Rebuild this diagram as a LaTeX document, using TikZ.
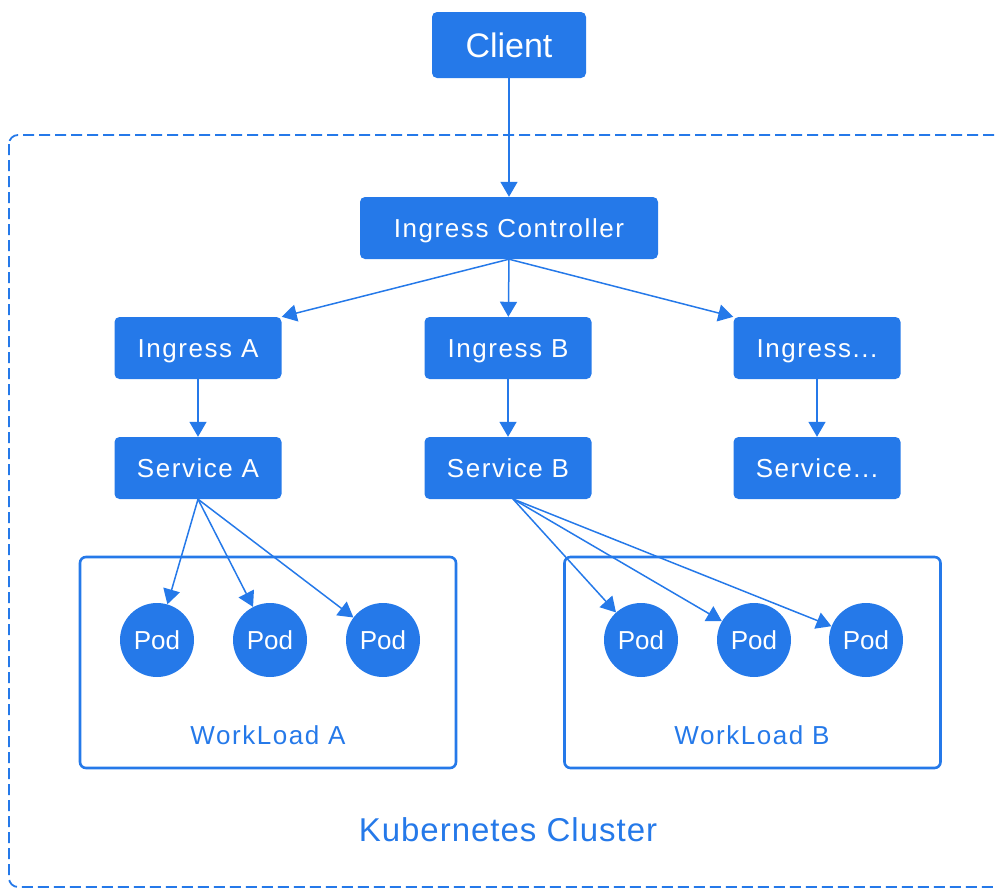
\documentclass[tikz,border=0pt]{standalone}
\usepackage{fontspec}
\setmainfont{Liberation Sans}
\newfontfamily\boxfont[LetterSpace=6]{Liberation Sans}
\newfontfamily\titlefont[LetterSpace=3]{Liberation Sans}
\usetikzlibrary{arrows.meta,positioning}
\definecolor{k8sblue}{RGB}{37,121,233}
\tikzset{
    blue-box/.style={
        rectangle,
        rounded corners=5pt,
        fill=k8sblue,
        text=white,
        minimum width=167pt,
        minimum height=62pt,
        text height=19pt,
        text depth=0pt,
        font=\boxfont\fontsize{26}{30}\selectfont
    },
    pod-point/.style={
        circle,
        fill=k8sblue,
        text=white,
        inner sep=0pt,
        minimum size=74pt,
        font=\fontsize{26}{30}\selectfont
    },
    load-box/.style={
        rectangle,
        draw=k8sblue,
        line width=2.6pt,
        rounded corners=6pt,
        minimum width=376pt,
        minimum height=211pt
    },
    blue-text/.style={
        text=k8sblue,
        font=\boxfont\fontsize{26}{30}\selectfont
    },
    every edge/.style={
        draw=k8sblue,
        line width=1.5pt,
        -{Triangle[width=17pt,length=15pt]}
    },
}

\begin{document}
\begin{tikzpicture}[x=1pt,y=-1pt]
    \useasboundingbox (0,0) rectangle (996,889);
    \clip (0,0) rectangle (996,889);

    % cluster frame
    \draw[k8sblue, line width=1.8pt, dash pattern=on 11pt off 5pt, rounded corners=9pt]
        (9,135) rectangle (1040,887);
    \node[text=k8sblue, font=\titlefont\fontsize{33}{38}\selectfont] (cluster) at (508,830) {Kubernetes Cluster};

    \node[blue-box, minimum width=154pt, minimum height=66pt, text height=24pt, font=\fontsize{34}{38}\selectfont] (client) at (509,45) {Client};
    \node[blue-box, minimum width=298pt] (ctrl) at (509,228) {Ingress Controller};

    \node[blue-box] (ingA) at (198,348) {Ingress A};
    \node[blue-box] (ingB) at (508,348) {Ingress B};
    \node[blue-box] (ingX) at (817,348) {Ingress...};

    \node[blue-box] (svcA) at (198,468) {Service A};
    \node[blue-box] (svcB) at (508,468) {Service B};
    \node[blue-box] (svcX) at (817,468) {Service...};

    % workloads
    \node[load-box] (wlA) at (268,662.5) {};
    \node[load-box] (wlB) at (752.5,662.5) {};
    \node[blue-text] (wlAtext) at (268,735) {WorkLoad A};
    \node[blue-text] (wlBtext) at (752,735) {WorkLoad B};

    \node[pod-point] (podA1) at (157,640) {Pod};
    \node[pod-point] (podA2) at (270,640) {Pod};
    \node[pod-point] (podA3) at (383,640) {Pod};
    \node[pod-point] (podB1) at (641,640) {Pod};
    \node[pod-point] (podB2) at (754,640) {Pod};
    \node[pod-point] (podB3) at (866,640) {Pod};

    \coordinate (svcBout) at (513,499);

    \draw (client) edge (ctrl);
    \draw (ctrl.south) edge (ingA.north east);
    \draw (ctrl.south) edge (ingB);
    \draw (ctrl.south) edge (ingX.north west);
    \draw (ingA) edge (svcA);
    \draw (ingB) edge (svcB);
    \draw (ingX) edge (svcX);
    \draw (svcA.south) edge (podA1);
    \draw (svcA.south) edge (podA2);
    \draw (svcA.south) edge (podA3);
    \draw (svcBout) edge (podB1);
    \draw (svcBout) edge (podB2);
    \draw (svcBout) edge (podB3);
\end{tikzpicture}
\end{document}
